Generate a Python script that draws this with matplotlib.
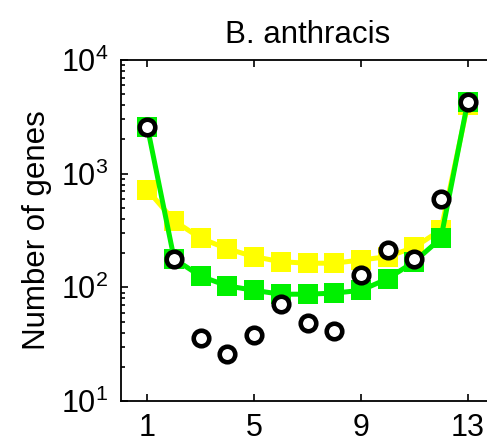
import matplotlib.pyplot as plt
import numpy as np

plt.rcParams['font.family'] = ['Liberation Sans', 'DejaVu Sans']
plt.rcParams['mathtext.fontset'] = 'custom'
plt.rcParams['mathtext.rm'] = 'Liberation Sans'

# gene counts per number of genomes (1..13)
genomes = list(range(1, 14))
observed = [2560, 178, 36, 26, 38, 71, 49, 41, 128, 213, 178, 596, 4250]
model_green = [2560, 178, 125, 103, 94, 87, 87, 89, 94, 119, 168, 270, 4250]
model_yellow = [719, 384, 270, 218, 186, 168, 163, 163, 174, 186, 225, 320, 4000]

fig = plt.figure(figsize=(4.87, 4.46), dpi=100)
ax = fig.add_axes([0.248, 0.1009, 0.767, 0.7646])

ax.plot(genomes, model_yellow, '-s', color='#ffff00', lw=3.6, ms=14, mew=0)
ax.plot(genomes, model_green, '-s', color='#00f000', lw=3.6, ms=14, mew=0)
ax.plot(genomes, observed, 'o', ls='none', mfc='white', mec='black', ms=11.2, mew=3.3)

ax.set_yscale('log')
ax.set_ylim(10, 10000)
ax.set_xlim(0, 14)
ax.set_xticks([1, 5, 9, 13])
ax.set_yticks([10, 100, 1000, 10000])

ax.tick_params(which='both', direction='in', top=True, right=True, labelsize=22, width=1.2)
ax.tick_params(axis='x', which='major', length=5, pad=9)
ax.tick_params(axis='y', which='major', length=5, pad=9)
ax.tick_params(which='minor', length=3)
for s in ax.spines.values():
    s.set_linewidth(1.3)

ax.set_title('B. anthracis', fontsize=22.5, pad=12)
ax.set_ylabel('Number of genes', fontsize=22.5, labelpad=6)

fig.savefig('out.png', dpi=100)
